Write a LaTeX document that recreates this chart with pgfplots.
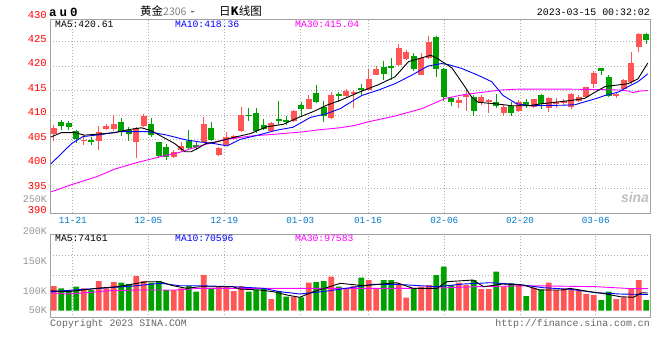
\documentclass[border=0pt]{standalone}
\usepackage{pgfplots}
\pgfplotsset{compat=1.18}
\usepackage{pgfplotstable}
\usepackage{fontspec}
\setmainfont{Liberation Mono}
\newfontfamily\cjk{Noto Sans CJK SC}
\newfontfamily\sanf{Liberation Sans}
\definecolor{cred}{RGB}{255,85,85}
\definecolor{cgreen}{RGB}{0,160,0}
\definecolor{tblue}{RGB}{0,120,200}
\definecolor{bord}{RGB}{160,160,160}
\definecolor{gridc}{RGB}{175,175,175}
\definecolor{lgray}{RGB}{150,150,150}
\definecolor{dgray}{RGB}{100,100,100}
\definecolor{mag}{RGB}{255,0,255}
\definecolor{pblue}{RGB}{0,0,255}

\pgfplotstableread{
i o h l c v
0 406.05 408.0 404.7 407.3 103.7
4 404.8 405.9 403.9 405.0 94.1
6 404.8 407.7 402.8 406.6 124.7
7 407.1 408.2 406.9 407.8 94.1
8 407.2 410.0 406.7 408.2 120.5
11 404.4 407.55 401.15 407.3 145.7
12 407.7 410.3 407.55 409.9 124.7
16 401.4 402.8 401.15 402.5 86.9
17 402.8 404.55 402.4 403.6 94.1
20 404.5 409.6 404.2 408.2 149.9
22 401.9 403.5 401.7 403.2 100.8
23 403.9 406.6 403.8 405.5 100.8
24 405.2 406.0 405.0 405.7 82.7
25 406.7 411.7 406.6 410.0 103.7
29 406.7 408.5 406.6 408.3 49.1
32 408.7 411.0 408.6 410.9 58.8
34 411.3 414.1 411.2 413.3 117.6
37 409.3 414.8 409.2 414.1 142.8
39 413.9 415.4 413.7 415.0 94.1
40 414.2 415.2 411.4 414.8 103.7
42 415.1 419.4 414.9 417.4 128.9
43 418.2 420.0 418.1 419.3 94.1
46 420.2 424.5 420.1 423.7 115.1
47 421.4 423.3 421.3 422.9 54.6
49 418.2 422.6 418.1 421.6 100.8
50 421.6 426.1 421.4 424.9 107.9
54 412.4 413.7 411.4 413.1 117.6
55 413.7 415.4 410.8 414.1 107.9
57 412.6 414.1 412.0 413.6 91.1
58 412.6 413.3 410.4 413.1 91.1
60 410.4 412.0 409.9 411.7 100.8
62 410.8 413.1 410.6 412.6 107.9
64 411.7 413.3 411.4 413.3 96.6
66 411.4 413.7 410.7 413.4 117.6
67 412.2 413.4 411.4 412.7 86.9
68 412.4 413.2 412.0 412.85 94.1
69 411.7 414.4 411.2 414.2 89.9
70 412.85 414.0 412.6 413.7 84.0
71 413.7 415.7 413.5 415.7 70.1
72 416.4 418.9 415.5 418.6 65.9
75 413.9 414.6 413.4 414.2 49.1
76 415.3 417.3 415.1 417.1 56.3
77 416.7 422.9 416.4 420.6 94.1
78 423.8 426.8 422.9 426.5 128.9
}\redt

\pgfplotstableread{
i o h l c v
1 408.6 409.05 406.9 407.7 94.1
2 408.4 408.7 406.9 407.5 86.9
3 406.7 407.0 404.3 405.2 100.8
5 405.0 405.6 403.9 404.55 86.9
9 408.6 409.3 405.8 406.6 117.6
10 407.0 407.55 404.7 406.05 112.1
13 408.2 409.3 405.5 405.9 117.6
14 404.5 404.5 401.2 401.7 124.7
15 403.5 404.1 400.8 401.4 86.9
18 404.7 406.9 402.9 403.3 103.7
19 403.8 404.7 402.9 403.6 79.8
21 407.35 408.5 404.7 405.0 94.1
26 410.1 411.4 408.8 409.9 79.8
27 410.5 411.4 406.3 406.7 86.9
28 407.9 409.1 407.0 407.2 91.1
30 409.1 412.9 407.9 408.8 82.7
31 409.0 409.9 408.0 408.5 58.8
33 412.1 412.6 409.7 411.2 56.3
35 414.5 416.1 412.5 412.6 120.5
36 411.7 412.9 408.6 409.7 124.7
38 414.2 414.6 412.7 413.9 100.8
41 415.5 416.4 414.1 415.3 138.6
44 419.9 421.0 417.1 418.4 128.9
45 420.0 421.6 417.1 419.8 128.9
48 422.0 422.6 418.9 419.3 94.1
51 426.0 426.1 417.7 419.3 149.9
52 419.4 419.6 412.9 413.7 184.8
53 413.4 413.7 411.9 412.6 107.9
56 413.7 414.1 409.7 410.8 128.9
59 412.6 414.3 411.4 411.9 163.8
61 411.9 412.6 409.9 410.4 115.1
63 412.6 413.3 411.4 411.9 61.7
65 414.1 414.3 411.2 412.2 89.9
73 419.6 419.6 418.1 418.9 44.9
74 417.8 418.1 413.7 413.9 79.8
79 426.5 426.7 424.5 425.3 44.9
}\greent

\pgfplotsset{
  panel/.style={
    anchor=south west, scale only axis, width=600pt,
    xmin=-0.5, xmax=79.5,
    axis line style={draw=bord, line width=1pt},
    xtick={2.53,12.61,22.74,32.87,41.9,52.07,62.17,72.26},
    major tick length=0pt,
    xmajorgrids, ymajorgrids,
    grid style={draw=gridc, line width=0.8pt, dash pattern=on 1pt off 2pt},
  },
  wick/.style={draw=none, mark=none, forget plot,
    error bars/.cd, y dir=both, y explicit, error mark=none,
    error bar style={draw=#1, line width=1pt}},
  body/.style={draw=none, mark=none, forget plot,
    error bars/.cd, y dir=both, y explicit, error mark=none,
    error bar style={draw=#1, line width=5.6pt}},
}

\begin{document}
\begin{tikzpicture}[x=1pt,y=1pt]
\useasboundingbox (0,0) rectangle (660,360);

% ---------------- main price panel
\begin{axis}[panel, at={(50pt,147pt)}, height=194pt,
  ymin=390, ymax=429.6,
  xticklabels={11-21,12-05,12-19,01-03,01-16,02-06,02-20,03-06},
  ytick={390,395,400,405,410,415,420,425},
  yticklabels={390,395,400,405,410,415,420,425},
  xticklabel style={font=\fontsize{9.3}{10}\selectfont, text=tblue, inner sep=0pt, yshift=-4.5pt},
  yticklabel style={font=\fontsize{10.5}{11}\selectfont, text=red, inner sep=0pt, xshift=-3pt, yshift=2.5pt},
]
\addplot[wick=cred] table[x=i, y expr={(\thisrow{h}+\thisrow{l})/2}, y error expr={(\thisrow{h}-\thisrow{l})/2}] {\redt};
\addplot[body=cred] table[x=i, y expr={(\thisrow{o}+\thisrow{c})/2}, y error expr={max(abs(\thisrow{c}-\thisrow{o})/2,0.1)}] {\redt};
\addplot[wick=cgreen] table[x=i, y expr={(\thisrow{h}+\thisrow{l})/2}, y error expr={(\thisrow{h}-\thisrow{l})/2}] {\greent};
\addplot[body=cgreen] table[x=i, y expr={(\thisrow{o}+\thisrow{c})/2}, y error expr={max(abs(\thisrow{c}-\thisrow{o})/2,0.1)}] {\greent};

% MA30
\addplot[mag, line width=0.9pt, mark=none] coordinates {
(-0.4,394.3) (2.4,395.8) (5.7,397.4) (8.2,399.0) (11.1,400.3) (13.7,401.3) (16.8,402.4)
(19.5,403.7) (22.8,405.0) (26.2,405.7) (28.8,406.0) (32.8,406.5) (35.5,407.0) (38.2,407.4)
(40.2,407.9) (41.9,408.6) (45.5,409.8) (49.1,411.3) (52.2,413.4) (54.8,414.2) (57.5,414.7)
(59.5,415.1) (62.2,415.3) (67.5,415.3) (72.8,415.2) (75.5,415.1) (76.6,414.9) (77.2,414.6)
(78.2,414.9) (79.2,415.0)};
% MA10
\addplot[pblue, line width=0.9pt, mark=none] coordinates {
(-0.4,400.0) (0.8,401.8) (2.4,404.2) (3.9,405.6) (6.2,406.0) (8.8,406.6) (12.6,406.6)
(15.1,405.9) (17.7,404.9) (19.5,404.5) (21.3,404.2) (23.1,403.7) (24.8,405.0) (27.5,406.0)
(29.7,406.9) (31.9,407.5) (34.2,409.5) (36.4,410.3) (38.2,411.3) (40.2,413.2) (41.1,414.0)
(43.3,415.1) (45.5,416.4) (47.7,418.1) (49.9,420.0) (51.7,420.5) (52.6,420.3) (54.4,419.5)
(56.6,418.1) (58.4,416.8) (59.9,414.0) (61.7,412.3) (63.5,411.9) (67.9,412.0) (69.5,412.1)
(70.8,412.7) (72.4,413.4) (73.5,414.0) (75.3,414.7) (76.6,415.8) (77.9,416.8) (79.2,418.4)};
% MA5
\addplot[black, line width=0.9pt, mark=none] coordinates {
(-0.4,405.5) (1.0,406.4) (2.8,406.4) (4.1,405.9) (5.9,406.1) (8.1,406.4) (9.9,407.0)
(11.7,407.4) (13.0,406.8) (14.3,405.7) (16.1,404.2) (17.5,402.5) (18.3,402.5) (19.2,403.2)
(20.3,404.2) (21.7,404.5) (23.9,405.4) (26.2,406.2) (28.4,407.6) (30.6,408.1) (32.8,409.6)
(34.6,410.7) (36.4,412.0) (38.2,413.0) (41.1,414.9) (43.3,416.2) (45.5,417.8) (47.3,420.9)
(49.1,421.7) (50.3,422.2) (51.3,421.4) (53.1,419.6) (54.8,415.8) (55.7,413.7) (56.6,412.6)
(58.8,412.3) (61.1,411.9) (63.3,411.9) (65.1,412.3) (66.8,412.6) (69.1,413.0) (70.8,413.4)
(72.2,414.7) (73.5,415.8) (76.6,416.4) (77.9,417.4) (79.2,420.6)};
\end{axis}

% ---------------- volume panel
\begin{axis}[panel, at={(50pt,42.3pt)}, height=83.4pt,
  ymin=-29.4, ymax=320.9,
  xticklabels={}, ytick={149.9,233.9}, yticklabels={},
]
\addplot[ybar, bar width=5.6pt, bar shift=0pt, fill=cred, draw=none] table[x=i, y=v] {\redt};
\addplot[ybar, bar width=5.6pt, bar shift=0pt, fill=cgreen, draw=none] table[x=i, y=v] {\greent};
% MA30 vol
\addplot[mag, line width=0.9pt, mark=none] coordinates {
(-0.4,75.6) (1.7,70.1) (4.4,75.6) (7.5,84.0) (11.5,86.9) (16.4,86.9) (19.5,94.1)
(29.3,94.1) (36.8,94.1) (50.2,94.1) (56.4,100.8) (63.5,105.0) (72.4,100.8) (76.8,93.0) (79.2,93.0)};
% MA10 vol
\addplot[pblue, line width=0.9pt, mark=none] coordinates {
(-0.4,79.8) (2.6,86.9) (6.2,94.1) (10.6,103.7) (14.2,115.1) (16.8,105.0) (19.5,105.0)
(23.9,100.8) (27.9,94.1) (30.2,79.8) (32.8,70.1) (36.8,84.0) (42.6,110.9) (45.7,110.9)
(51.1,100.8) (54.6,112.1) (58.2,117.6) (61.7,110.9) (65.3,96.6) (68.8,89.9) (72.4,75.6)
(75.5,70.1) (79.2,68.0)};
% MA5 vol
\addplot[black, line width=0.9pt, mark=none] coordinates {
(-0.4,84.0) (1.7,79.8) (3.9,86.9) (5.7,94.1) (8.4,100.8) (10.6,112.1) (12.4,121.8)
(14.2,121.8) (15.9,105.0) (17.7,94.1) (19.5,100.8) (23.9,100.8) (24.8,91.1) (27.5,86.9)
(29.3,79.8) (31.1,65.9) (32.8,56.3) (34.6,79.8) (36.8,100.8) (38.2,115.1) (41.3,105.0)
(45.7,117.6) (47.9,94.1) (51.1,94.1) (52.4,121.8) (55.9,128.9) (57.3,100.8) (59.9,112.1)
(62.6,107.9) (64.8,86.9) (67.9,86.9) (68.8,94.1) (71.5,79.8) (73.7,70.1) (75.5,58.8)
(77.3,56.3) (78.4,75.6) (79.2,74.2)};
\end{axis}

% ---------------- texts
\node[anchor=west, inner sep=0pt] at (49,348) {\bfseries\fontsize{12.5}{13}\selectfont a\hspace{3pt}u\hspace{3pt}0};
\node[anchor=west, inner sep=0pt] at (140,349) {\cjk\fontsize{11.5}{12}\selectfont 黄金{\color{gray}\fontsize{10.5}{11}\selectfont 2306}\hspace{4pt}-};
\node[anchor=west, inner sep=0pt] at (219,349) {\cjk\fontsize{11.5}{12}\selectfont 日\textbf{K}线图};
\node[anchor=east, inner sep=0pt] at (650,348) {\fontsize{9.9}{11}\selectfont 2023-03-15 00:32:02};

\node[anchor=east, inner sep=0pt, text=red] at (47,344.5) {\fontsize{10.5}{11}\selectfont 430};

\node[anchor=west, inner sep=0pt] at (55,335.5) {\fontsize{9.7}{11}\selectfont MA5:420.61};
\node[anchor=west, inner sep=0pt, text=pblue] at (175,335.5) {\fontsize{9.7}{11}\selectfont MA10:418.36};
\node[anchor=west, inner sep=0pt, text=mag] at (295,335.5) {\fontsize{9.7}{11}\selectfont MA30:415.04};

\node[anchor=west, inner sep=0pt] at (55,121.5) {\fontsize{9.7}{11}\selectfont MA5:74161};
\node[anchor=west, inner sep=0pt, text=pblue] at (175,121.5) {\fontsize{9.7}{11}\selectfont MA10:70596};
\node[anchor=west, inner sep=0pt, text=mag] at (295,121.5) {\fontsize{9.7}{11}\selectfont MA30:97583};

\node[anchor=east, inner sep=0pt, text=lgray] at (47,161) {\fontsize{10}{11}\selectfont 250K};
\node[anchor=east, inner sep=0pt, text=lgray] at (47,129) {\fontsize{10}{11}\selectfont 200K};
\node[anchor=east, inner sep=0pt, text=lgray] at (47,99) {\fontsize{10}{11}\selectfont 150K};
\node[anchor=east, inner sep=0pt, text=lgray] at (47,69) {\fontsize{10}{11}\selectfont 100K};
\node[anchor=east, inner sep=0pt, text=lgray] at (47,50) {\fontsize{10}{11}\selectfont 50K};

\node[anchor=west, inner sep=0pt, text=dgray] at (50,36.5) {\fontsize{9.9}{11}\selectfont Copyright 2023 SINA.COM};
\node[anchor=east, inner sep=0pt, text=dgray] at (650,36.5) {\fontsize{9.9}{11}\selectfont http://finance.sina.com.cn};

\node[inner sep=0pt, text=black!25] at (635,163) {\sanf\bfseries\itshape\fontsize{14}{14}\selectfont sina};
\end{tikzpicture}
\end{document}
